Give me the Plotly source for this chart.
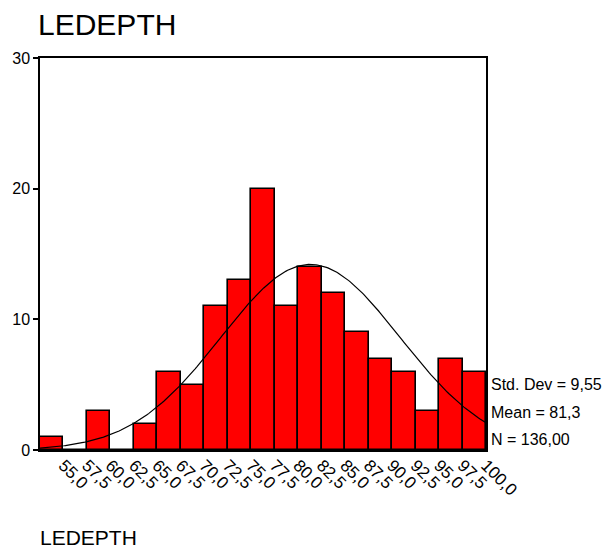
import numpy as np
import plotly.graph_objects as go

# Histogram of LEDEPTH, bin width 2.5
bin_width = 2.5
bin_start = 52.5
counts = [1, 0, 3, 0, 2, 6, 5, 11, 13, 20, 11, 14, 12, 9, 7, 6, 3, 7, 6]
tick_values = [55.0, 57.5, 60.0, 62.5, 65.0, 67.5, 70.0, 72.5, 75.0, 77.5,
               80.0, 82.5, 85.0, 87.5, 90.0, 92.5, 95.0, 97.5, 100.0]
tick_labels = ["55,0", "57,5", "60,0", "62,5", "65,0", "67,5", "70,0", "72,5",
               "75,0", "77,5", "80,0", "82,5", "85,0", "87,5", "90,0", "92,5",
               "95,0", "97,5", "100,0"]

std_dev = 9.55
mean = 81.3
n_total = 136

centers = [bin_start + bin_width * (i + 0.5) for i in range(len(counts))]
x_min = bin_start
x_max = bin_start + bin_width * len(counts)

# Normal curve scaled to counts
xs = np.linspace(x_min, x_max, 300)
ys = n_total * bin_width / (std_dev * np.sqrt(2 * np.pi)) * np.exp(-0.5 * ((xs - mean) / std_dev) ** 2)

FONT = "Liberation Sans, Arial, sans-serif"

fig = go.Figure()
fig.add_trace(go.Bar(
    x=centers, y=counts, width=bin_width,
    marker=dict(color="#FF0000", line=dict(color="black", width=1.6)),
    hoverinfo="x+y",
))
fig.add_trace(go.Scatter(
    x=xs, y=ys, mode="lines",
    line=dict(color="black", width=1.2),
    hoverinfo="skip",
))

stats = [("Std. Dev = 9,55", 384), ("Mean = 81,3", 412), ("N = 136,00", 439)]
annotations = []
for text, ypix in stats:
    annotations.append(dict(
        text=text, xref="paper", yref="paper",
        x=(489 - 40) / 446, y=(450 - ypix) / 392,
        xanchor="left", yanchor="middle", showarrow=False,
        font=dict(family=FONT, size=16, color="black"),
    ))
annotations.append(dict(
    text="LEDEPTH", xref="paper", yref="paper",
    x=(38 - 40) / 446, y=(450 - 537) / 392,
    xanchor="left", yanchor="middle", showarrow=False,
    font=dict(family=FONT, size=21, color="black"),
))

fig.update_layout(
    width=605, height=551,
    margin=dict(l=40, r=119, t=58, b=101),
    paper_bgcolor="white", plot_bgcolor="white",
    showlegend=False, bargap=0,
    title=dict(text="LEDEPTH", x=38 / 605, xanchor="left", y=1 - 24 / 551, yanchor="middle",
               font=dict(family=FONT, size=30, color="black")),
    annotations=annotations,
    xaxis=dict(
        range=[x_min, x_max], tickmode="array", tickvals=tick_values, ticktext=tick_labels,
        tickangle=45, ticks="", ticklabelstandoff=-3, showgrid=False, zeroline=False,
        showline=True, linecolor="black", linewidth=1.5, mirror=True,
        tickfont=dict(family=FONT, size=17, color="black"),
    ),
    yaxis=dict(
        range=[0, 30], tickvals=[0, 10, 20, 30], ticks="outside", ticklen=5,
        tickcolor="black", tickwidth=1.5, showgrid=False, zeroline=False,
        showline=True, linecolor="black", linewidth=1.5, mirror=True,
        tickfont=dict(family=FONT, size=16, color="black"),
    ),
    font=dict(family=FONT),
)

fig.write_html("out.html")
